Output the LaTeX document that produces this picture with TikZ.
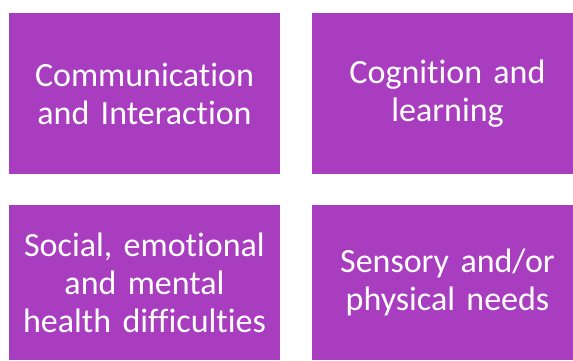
\documentclass[tikz,border=0pt]{standalone}
\usepackage{fontspec}
\setmainfont{Carlito}[Ligatures=NoCommon, WordSpace=0.8]
\usetikzlibrary{positioning}
\definecolor{needbox}{HTML}{A93DC0}

\begin{document}
\begin{tikzpicture}[x=1pt, y=-1pt,
    area/.style={rectangle, fill=needbox, text=white, inner sep=0pt,
      minimum width=271pt, minimum height=161pt, text width=265pt,
      align=center, font=\fontsize{34}{38}\selectfont}]
  \useasboundingbox (0,0) rectangle (573,360);
  % top row
  \node[area] (comm) at (144.5,93.5) {Communication\\and Interaction};
  \node[area] (cog) at (447.5,93.5) {Cognition and\\learning};
  % bottom row, cut off by the lower edge
  \node[area, minimum height=155pt] (semh) at (144.5,282.5)
    {Social, emotional\\and mental\\health difficulties};
  \node[area, minimum height=155pt] (sens) at (447.5,282.5)
    {Sensory and/or\\physical needs};
\end{tikzpicture}
\end{document}
